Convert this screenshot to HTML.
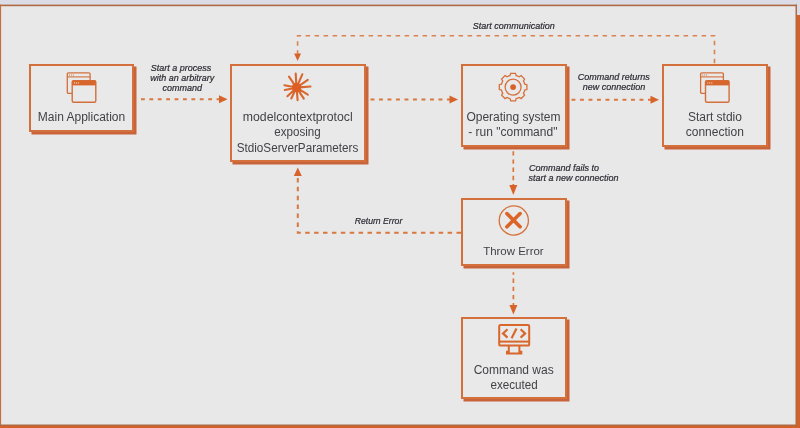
<!DOCTYPE html>
<html><head><meta charset="utf-8">
<style>
html,body{margin:0;padding:0;width:800px;height:428px;overflow:hidden;background:#dcdce6;}
svg{position:absolute;left:0;top:0;display:block;will-change:transform;}
text{font-family:"Liberation Sans",sans-serif;}
.bt{font-size:12px;fill:#424247;}
.lb{font-size:9px;font-style:italic;fill:#2a2a33;stroke:#2a2a33;stroke-width:0.2px;}
</style></head>
<body>
<svg width="800" height="428" viewBox="0 0 800 428">
  <!-- outer frame -->
  <rect x="0" y="15" width="800" height="413" fill="#d4602a"/>
  <rect x="0" y="4.6" width="797" height="421.4" fill="#e8e8e8"/>
  <g fill="#ad6b44">
    <rect x="0" y="4.6" width="797" height="1.6"/>
    <rect x="0" y="4.6" width="1.1" height="421.4" fill="#c56d3c"/>
    <rect x="795.5" y="4.6" width="1.5" height="421.4"/>
    <rect x="0" y="424.5" width="797" height="1.5"/>
  </g>

  <!-- boxes: shadow then box -->
  <g fill="#c9633a">
    <rect x="31.5" y="66.5" width="105" height="68"/>
    <rect x="232.5" y="66.5" width="136" height="98"/>
    <rect x="463.5" y="66.5" width="106" height="83"/>
    <rect x="664.5" y="66.5" width="106" height="83"/>
    <rect x="463.5" y="200.5" width="106" height="68"/>
    <rect x="463.5" y="319.5" width="106" height="82"/>
  </g>
  <g fill="#e9e9e9" stroke="#d4703c" stroke-width="2">
    <rect x="30" y="65" width="103" height="66"/>
    <rect x="231" y="65" width="134" height="96"/>
    <rect x="462" y="65" width="104" height="81"/>
    <rect x="663" y="65" width="104" height="81"/>
    <rect x="462" y="199" width="104" height="66"/>
    <rect x="462" y="318" width="104" height="80"/>
  </g>

  <!-- dashed connectors -->
  <g fill="none" stroke="#d8773f" stroke-width="2">
    <path d="M141 99.2H220" stroke-dasharray="3.8 4.6"/>
    <path d="M370.5 99.4H450" stroke-dasharray="3.9 4.6"/>
    <path d="M571.5 99.7H651" stroke-dasharray="3.9 4.6"/>
    <path d="M513.3 151V186" stroke-width="1.7" stroke-dasharray="4.4 3.8" stroke-dashoffset="8"/>
    <path d="M513.4 272.3V305" stroke-width="1.7" stroke-dasharray="4.4 3.8" stroke-dashoffset="2"/>
    <path d="M714.5 63.3V35.7H297.6V54" stroke-width="1.6" stroke="#da8352" stroke-dasharray="4.5 4.5"/>
    <path d="M461 232.8H297.8V176" stroke-dasharray="4.5 4.4"/>
  </g>
  <g fill="#d8632a">
    <path d="M219 95.2L227.5 99.2L219 103.2Z"/>
    <path d="M449.5 95.4L458 99.4L449.5 103.4Z"/>
    <path d="M650.5 95.7L659 99.7L650.5 103.7Z"/>
    <path d="M509.3 185L513.3 195L517.3 185Z"/>
    <path d="M509.4 305L513.4 314.5L517.4 305Z"/>
    <path d="M294.1 53.6L297.6 61L301.1 53.6Z"/>
    <path d="M293.8 176L297.8 167.5L301.8 176Z"/>
  </g>

  <!-- icons -->
  
  <g transform="translate(81.5 86.8)">
      <path d="M-9.3 6.6H-13a1.2 1.2 0 0 1 -1.2 -1.2V-12.7a1.2 1.2 0 0 1 1.2 -1.2H7.4a1.2 1.2 0 0 1 1.2 1.2V-6.2" fill="none" stroke="#d2703c" stroke-width="1.3"/>
      <path d="M-14.2 -9.9H8.6" fill="none" stroke="#d2703c" stroke-width="1.1"/>
      <rect x="-9.3" y="-6.2" width="23.6" height="21.7" rx="1.5" fill="#e9e9e9" stroke="#d2703c" stroke-width="1.4"/>
      <rect x="-9.3" y="-6.2" width="23.6" height="4.8" fill="#d8652b"/>
      <g fill="#f3d4c0"><rect x="-7.6" y="-4.4" width="1.1" height="1.1"/><rect x="-5.6" y="-4.4" width="1.1" height="1.1"/><rect x="-3.6" y="-4.4" width="1.1" height="1.1"/></g>
      <g fill="#d2703c"><rect x="-12.5" y="-12.3" width="1" height="1"/><rect x="-10.6" y="-12.3" width="1" height="1"/><rect x="-8.7" y="-12.3" width="1" height="1"/></g>
    </g>
  <g transform="translate(714.8 86.8)">
      <path d="M-9.3 6.6H-13a1.2 1.2 0 0 1 -1.2 -1.2V-12.7a1.2 1.2 0 0 1 1.2 -1.2H7.4a1.2 1.2 0 0 1 1.2 1.2V-6.2" fill="none" stroke="#d2703c" stroke-width="1.3"/>
      <path d="M-14.2 -9.9H8.6" fill="none" stroke="#d2703c" stroke-width="1.1"/>
      <rect x="-9.3" y="-6.2" width="23.6" height="21.7" rx="1.5" fill="#e9e9e9" stroke="#d2703c" stroke-width="1.4"/>
      <rect x="-9.3" y="-6.2" width="23.6" height="4.8" fill="#d8652b"/>
      <g fill="#f3d4c0"><rect x="-7.6" y="-4.4" width="1.1" height="1.1"/><rect x="-5.6" y="-4.4" width="1.1" height="1.1"/><rect x="-3.6" y="-4.4" width="1.1" height="1.1"/></g>
      <g fill="#d2703c"><rect x="-12.5" y="-12.3" width="1" height="1"/><rect x="-10.6" y="-12.3" width="1" height="1"/><rect x="-8.7" y="-12.3" width="1" height="1"/></g>
    </g>

  <!-- sunburst -->
  <g stroke="#d8682f" stroke-width="2.1" stroke-linecap="round" fill="none">
    <path d="M296.3 84.6L295.7 73.5M297.7 84.9L302.3 74.3M294.8 85.1L289.0 76.7M293.6 87.0L284.4 85.3M293.6 88.2L284.8 90.0M294.3 89.7L287.4 96.2M295.2 90.3L291.3 98.5M296.8 90.6L297.6 100.1M298.2 90.1L303.8 98.6M299.0 89.2L307.8 94.7M299.5 87.4L310.5 86.5M299.0 85.9L307.8 79.9"/>
  </g>
  <circle cx="296.5" cy="87.6" r="4.6" fill="#dd5d22"/>

  <!-- gear -->
  <path d="M508.51 76.01 L510.10 75.48 L510.67 73.31 L515.53 73.31 L516.10 75.48 L517.69 76.01 L519.19 76.76 L521.13 75.63 L524.57 79.07 L523.44 81.01 L524.19 82.51 L524.72 84.10 L526.89 84.67 L526.89 89.53 L524.72 90.10 L524.19 91.69 L523.44 93.19 L524.57 95.13 L521.13 98.57 L519.19 97.44 L517.69 98.19 L516.10 98.72 L515.53 100.89 L510.67 100.89 L510.10 98.72 L508.51 98.19 L507.01 97.44 L505.07 98.57 L501.63 95.13 L502.76 93.19 L502.01 91.69 L501.48 90.10 L499.31 89.53 L499.31 84.67 L501.48 84.10 L502.01 82.51 L502.76 81.01 L501.63 79.07 L505.07 75.63 L507.01 76.76Z" fill="none" stroke="#d6703a" stroke-width="1.3"/>
  <circle cx="513.1" cy="87.1" r="8" fill="none" stroke="#d6703a" stroke-width="1.3"/>
  <circle cx="513.1" cy="87.1" r="2.9" fill="#d9622a"/>

  <!-- x circle -->
  <circle cx="513.8" cy="220.5" r="14.6" fill="none" stroke="#d6703a" stroke-width="1.3"/>
  <path d="M506.9 213.6L520.1 226.8M520.1 213.6L506.9 226.8" stroke="#dc6426" stroke-width="3.6" stroke-linecap="round"/>

  <!-- monitor -->
  <g fill="none" stroke="#d9672c" stroke-width="2">
    <rect x="499.2" y="325.1" width="30" height="20.5" rx="1.2"/>
    <path d="M499.2 341.6H529.2"/>
    <path d="M508.8 345.6V351.8H507V353.5H521.3V351.8H519.4V345.6"/>
  </g>
  <g fill="none" stroke="#d9672c" stroke-width="2.2" stroke-linecap="butt">
    <path d="M507.5 329.2L503 333.4L507.5 337.6"/>
    <path d="M520.6 329.2L525.1 333.4L520.6 337.6"/>
    <path d="M516.5 328.6L511.6 338.2"/>
  </g>

  <!-- box texts -->
  <g class="bt" text-anchor="middle">
    <text x="81.5" y="121">Main Application</text>
    <text x="297.7" y="121.2" textLength="109.9" lengthAdjust="spacingAndGlyphs">modelcontextprotocl</text>
    <text x="297.5" y="136.4" textLength="46.4" lengthAdjust="spacingAndGlyphs">exposing</text>
    <text x="297.5" y="151.6" textLength="121.7" lengthAdjust="spacingAndGlyphs">StdioServerParameters</text>
    <text x="513.4" y="121.2">Operating system</text>
    <text x="512.8" y="136.2">- run "command"</text>
    <text x="714.9" y="121">Start stdio</text>
    <text x="714.8" y="136.2">connection</text>
    <text x="513.4" y="254.6" style="font-size:11.4px" textLength="60.5" lengthAdjust="spacingAndGlyphs">Throw Error</text>
    <text x="513.7" y="373.8">Command was</text>
    <text x="514.1" y="389.3" textLength="47.2" lengthAdjust="spacingAndGlyphs">executed</text>
  </g>

  <!-- labels -->
  <g class="lb" text-anchor="middle">
    <text x="181" y="71">Start a process</text>
    <text x="182.3" y="81.1">with an arbitrary</text>
    <text x="182.3" y="91.4">command</text>
    <text x="513.7" y="28.9">Start communication</text>
    <text x="613.8" y="80">Command returns</text>
    <text x="614.1" y="90">new connection</text>
    <text x="378.5" y="223.7" textLength="47.6" lengthAdjust="spacingAndGlyphs">Return Error</text>
  </g>
  <g class="lb">
    <text x="528.9" y="171.2">Command fails to</text>
    <text x="528.5" y="180.9">start a new connection</text>
  </g>
</svg>
</body></html>
